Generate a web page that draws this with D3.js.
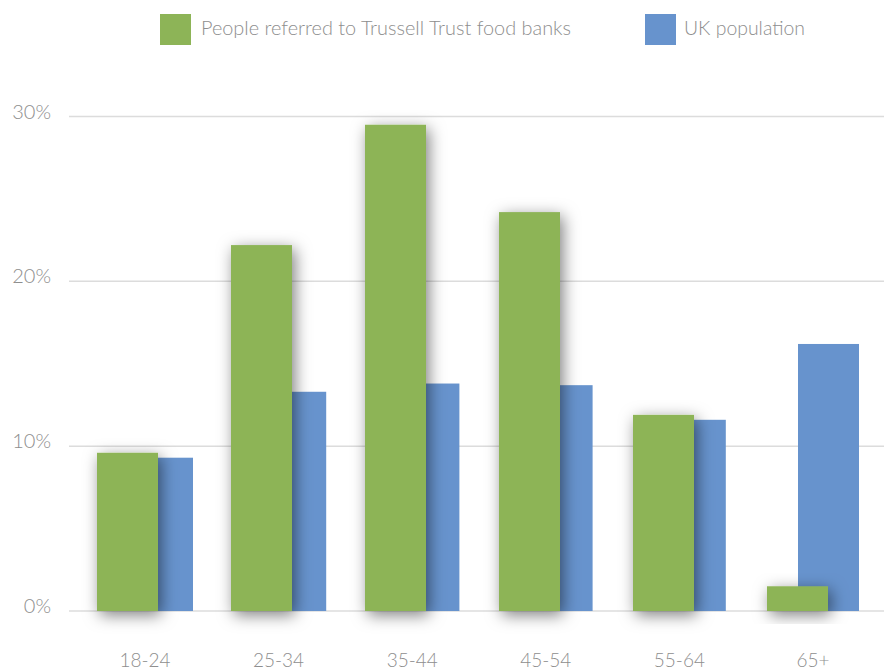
<!DOCTYPE html>
<html>
<head>
<meta charset="utf-8">
<script src="https://cdn.jsdelivr.net/npm/d3@7"></script>
<style>
  html, body { margin: 0; padding: 0; background: #fff; }
  svg { display: block; }
  text { font-family: Lato, "Open Sans", sans-serif; font-weight: 300; fill: #8e8e8e; }
</style>
</head>
<body>
<div id="chart"></div>
<script>
const categories = ["18-24", "25-34", "35-44", "45-54", "55-64", "65+"];
const foodBank = [9.6, 22.2, 29.5, 24.2, 11.9, 1.5];
const ukPop = [9.3, 13.3, 13.8, 13.7, 11.6, 16.2];
const seriesNames = ["People referred to Trussell Trust food banks", "UK population"];
const yTicks = [0, 10, 20, 30];

const W = 884, H = 670;
const colors = ["#8db457", "#6793cd"];

const svg = d3.select("#chart").append("svg").attr("width", W).attr("height", H);

const defs = svg.append("defs");
const f = defs.append("filter").attr("id", "shadow")
  .attr("x", "-60%").attr("y", "-50%").attr("width", "220%").attr("height", "200%");
f.append("feDropShadow").attr("dx", 3).attr("dy", 4).attr("stdDeviation", 8)
  .attr("flood-color", "#000").attr("flood-opacity", 0.5);

const y = d3.scaleLinear().domain([0, 30]).range([611, 116.5]);
const barW = 61;
const xGreen = d3.scaleBand().domain(categories).range([97, 97 + 134 * 6]);
const xBlue = d3.scaleBand().domain(categories).range([132, 132 + 133.2 * 6]);

// gridlines
svg.append("g").selectAll("line").data(yTicks).join("line")
  .attr("x1", 69).attr("x2", W)
  .attr("y1", d => y(d)).attr("y2", d => y(d))
  .attr("stroke", "#dcdcdc").attr("stroke-width", 1.5);

// y labels
svg.append("g").selectAll("text").data(yTicks).join("text")
  .attr("x", 51).attr("y", d => y(d) + 2)
  .attr("text-anchor", "end").attr("font-size", 20)
  .text(d => d + "%");

// blue bars
svg.append("g").selectAll("rect").data(categories).join("rect")
  .attr("x", d => xBlue(d)).attr("width", barW)
  .attr("y", (d, i) => y(ukPop[i])).attr("height", (d, i) => y(0) - y(ukPop[i]))
  .attr("fill", colors[1]);

// green bars with shadow
svg.append("g").selectAll("rect").data(categories).join("rect")
  .attr("x", d => xGreen(d)).attr("width", barW)
  .attr("y", (d, i) => y(foodBank[i])).attr("height", (d, i) => y(0) - y(foodBank[i]))
  .attr("fill", colors[0]).attr("filter", "url(#shadow)");

// x labels
svg.append("g").selectAll("text").data(categories).join("text")
  .attr("x", d => (xGreen(d) + xBlue(d) + barW) / 2)
  .attr("y", 667)
  .attr("text-anchor", "middle").attr("font-size", 19)
  .text(d => d);

// legend
const legend = [
  { name: seriesNames[0], color: colors[0], sx: 160, tx: 201, tw: 370 },
  { name: seriesNames[1], color: colors[1], sx: 645, tx: 684, tw: 121 }
];
const lg = svg.append("g");
lg.selectAll("rect").data(legend).join("rect")
  .attr("x", d => d.sx).attr("y", 14).attr("width", 31).attr("height", 31)
  .attr("fill", d => d.color);
lg.selectAll("text").data(legend).join("text")
  .attr("x", d => d.tx).attr("y", 35)
  .attr("font-size", 19)
  .attr("textLength", d => d.tw).attr("lengthAdjust", "spacingAndGlyphs")
  .text(d => d.name);
</script>
</body>
</html>
